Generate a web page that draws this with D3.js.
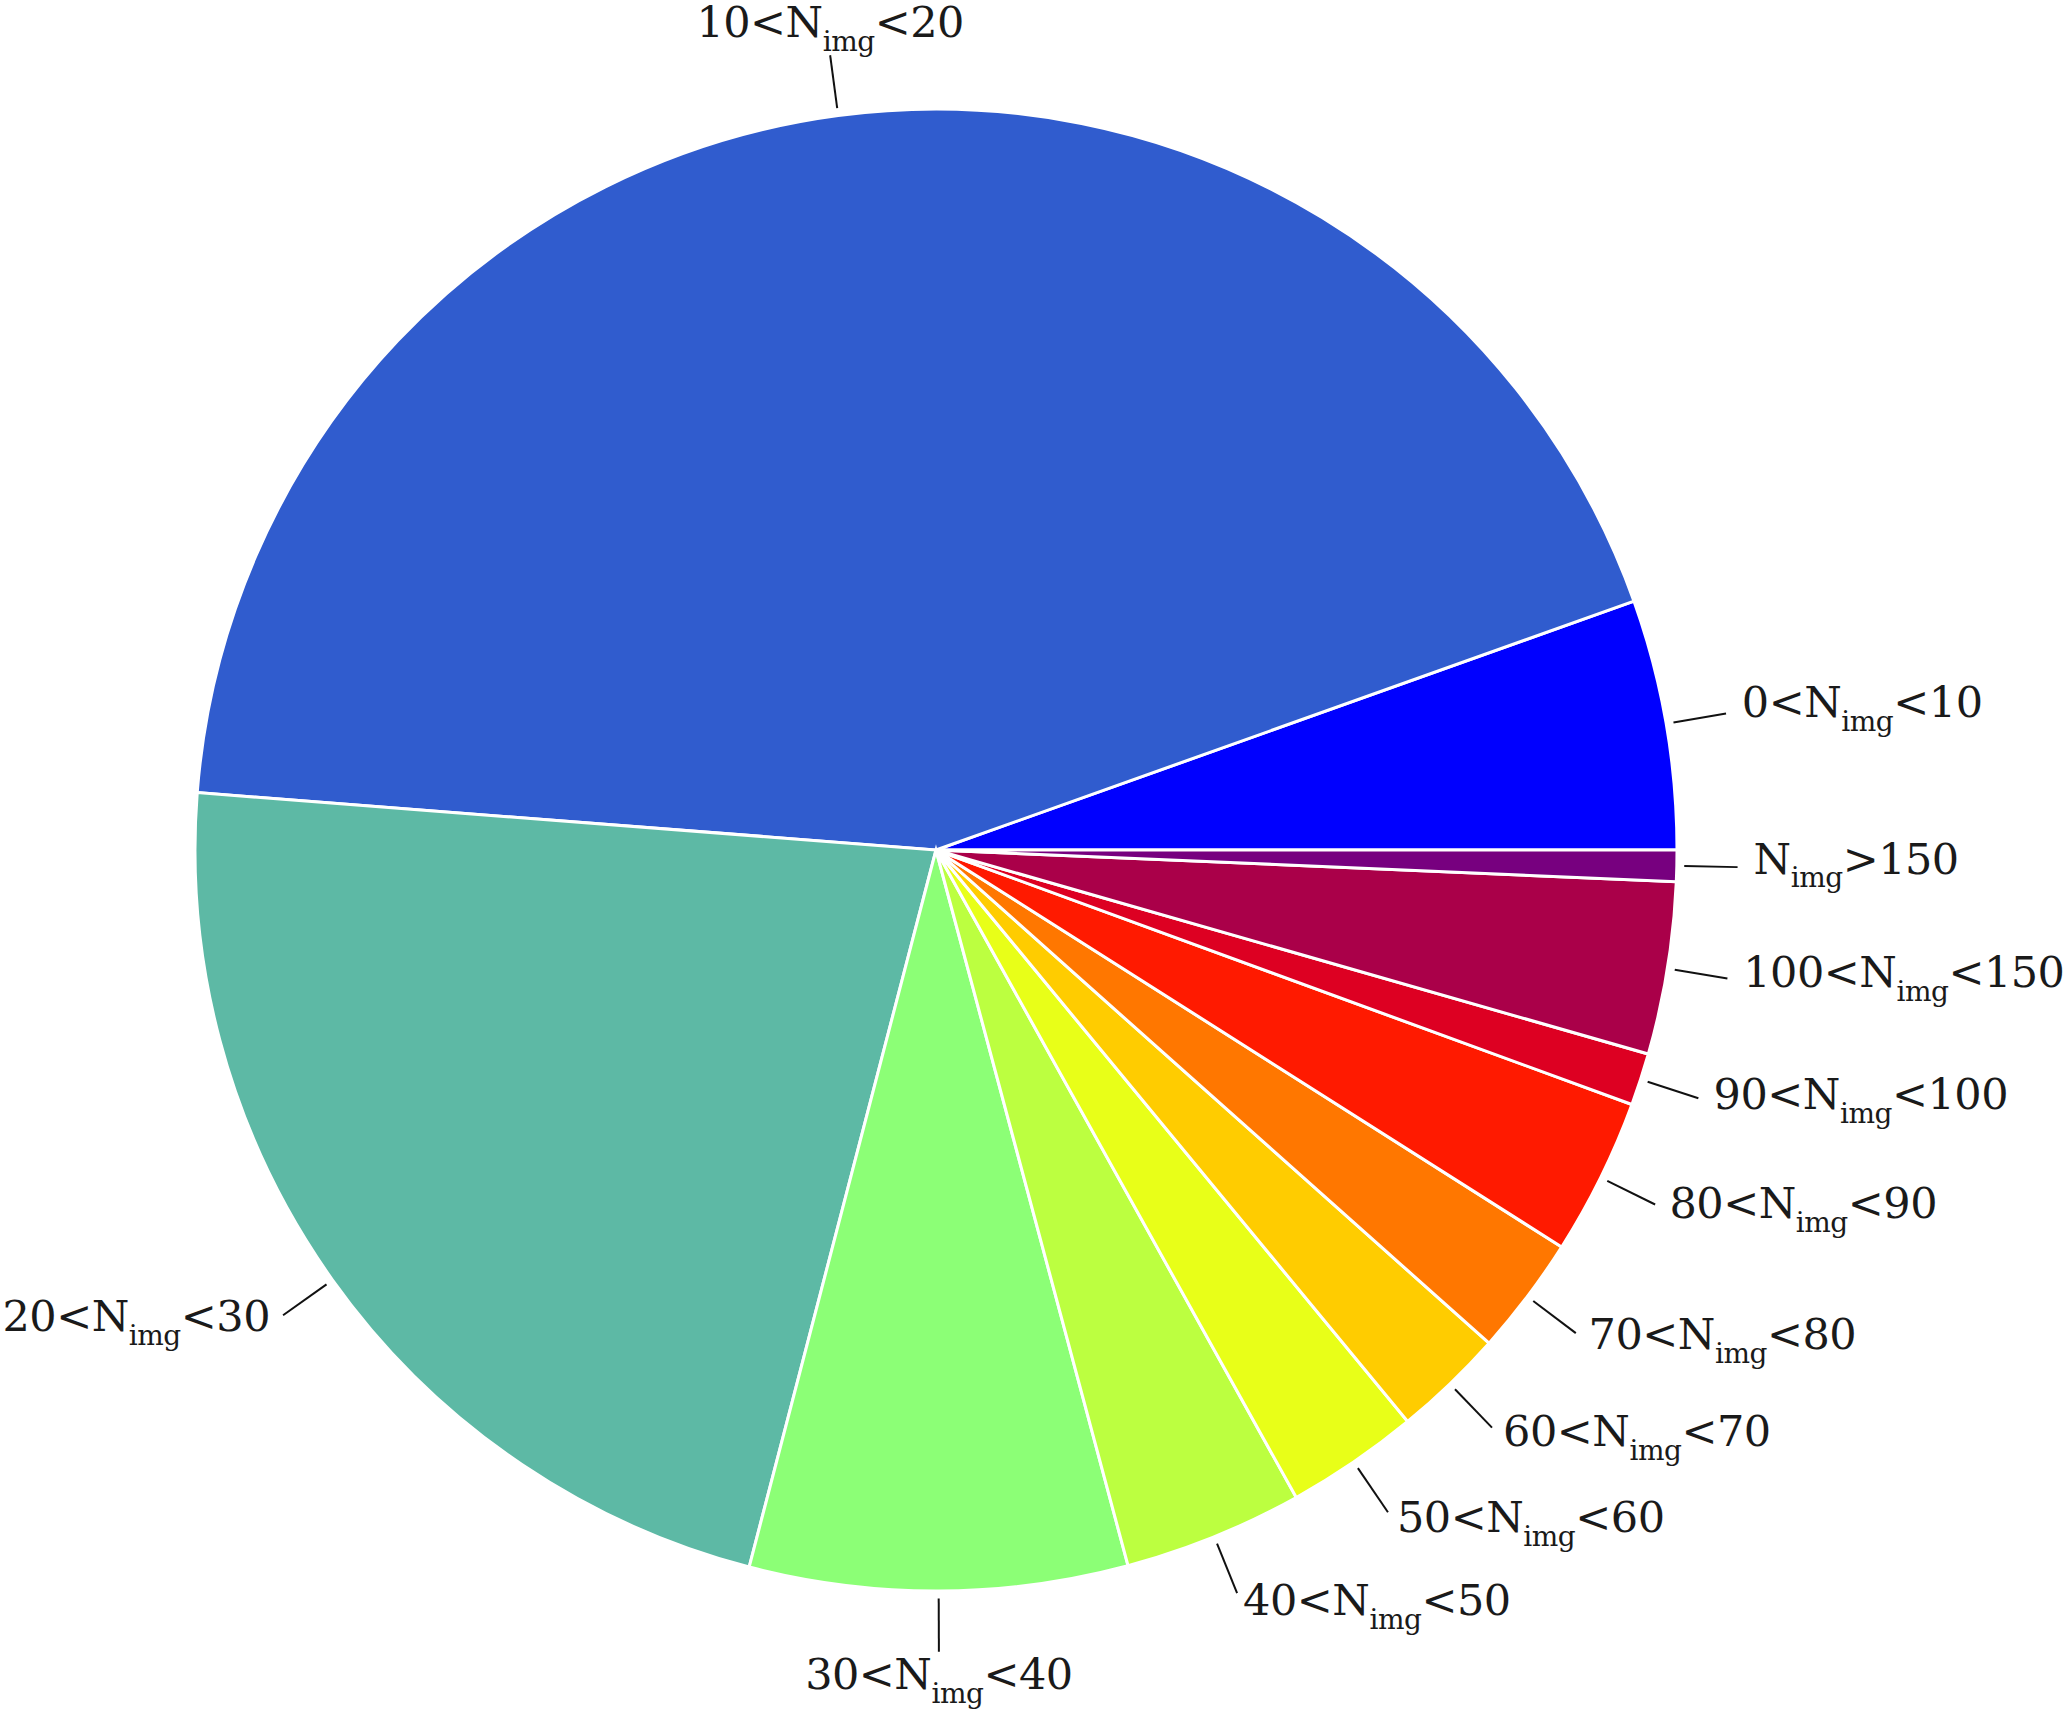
<!DOCTYPE html>
<html>
<head>
<meta charset="utf-8">
<script src="https://cdn.jsdelivr.net/npm/d3@7"></script>
<style>
body { margin: 0; background: #fff; }
.lbl { font-family: "DejaVu Serif", serif; fill: #1a1a1a; letter-spacing: -0.5px; }
</style>
</head>
<body>
<div id="pie"></div>
<script>
// canvas
var svgWidth = 2069;
var svgHeight = 1710;

// data (share of images, %), counter-clockwise from 3 o'clock
var labelPre  = ["0<", "10<", "20<", "30<", "40<", "50<", "60<", "70<", "80<", "90<", "100<", ""];
var labelPost = ["<10", "<20", "<30", "<40", "<50", "<60", "<70", "<80", "<90", "<100", "<150", ">150"];
var shares    = [5.45, 43.32, 22.18, 8.23, 3.91, 2.90, 2.43, 2.59, 3.42, 1.14, 3.76, 0.68];
var colors    = ["#0000ff", "#305cce", "#5db9a5", "#8cff76", "#bcff40", "#e8ff18",
                 "#ffcc00", "#ff7700", "#ff1a00", "#dd0022", "#aa0049", "#77007f"];

var cx = 936, cy = 850, radius = 741;

var svg = d3.select("#pie")
  .append("svg")
  .attr("width", svgWidth)
  .attr("height", svgHeight);

svg.append("rect")
  .attr("width", svgWidth)
  .attr("height", svgHeight)
  .attr("fill", "#fff");

var chart = svg.append("g")
  .attr("transform", `translate(${cx}, ${cy})`);

// counter-clockwise, starting at 3 o'clock
var pie = d3.pie()
  .sort(null)
  .value(d => d)
  .startAngle(Math.PI / 2)
  .endAngle(Math.PI / 2 - 2 * Math.PI);

var arc = d3.arc().innerRadius(0).outerRadius(radius);

var slices = pie(shares);

chart.selectAll("path.slice")
  .data(slices)
  .enter()
  .append("path")
  .attr("class", "slice")
  .attr("d", arc)
  .attr("fill", (d, i) => colors[i])
  .attr("stroke", "#fff")
  .attr("stroke-width", 3)
  .attr("stroke-linejoin", "miter");

// leader lines + labels
var r1 = radius * 1.01, r2 = radius * 1.082;

slices.forEach(function(d, i) {
  var a = (d.startAngle + d.endAngle) / 2;
  var ux = Math.sin(a), uy = -Math.cos(a);
  var ex = ux * r2, ey = uy * r2;

  chart.append("line")
    .attr("x1", ux * r1).attr("y1", uy * r1)
    .attr("x2", ex).attr("y2", ey)
    .attr("stroke", "#111")
    .attr("stroke-width", 2);

  var anchor, tx, ty;
  if (Math.abs(ux) < 0.2) {
    anchor = "middle"; tx = ex;
    ty = ey + 9 + 28 * uy;
  } else {
    anchor = ux > 0 ? "start" : "end";
    tx = ex + 16 * ux;
    ty = ey + 6 + 17 * uy;
  }

  var t = chart.append("text")
    .attr("class", "lbl")
    .attr("x", tx)
    .attr("y", ty)
    .attr("text-anchor", anchor)
    .attr("font-size", 43);
  t.append("tspan").text(labelPre[i] + "N");
  t.append("tspan").attr("font-size", 28).attr("dy", 14).text("img");
  t.append("tspan").attr("font-size", 43).attr("dy", -14).text(labelPost[i]);
});
</script>
</body>
</html>
